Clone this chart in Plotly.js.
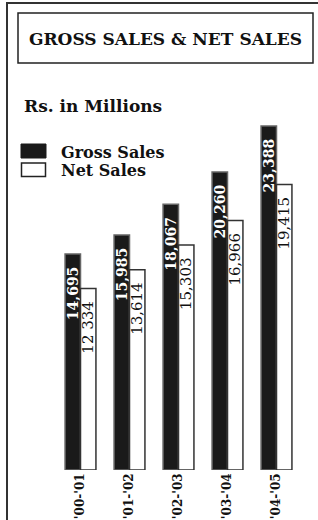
<!DOCTYPE html>
<html>
<head>
<meta charset="utf-8">
<script src="https://cdn.plot.ly/plotly-3.0.1.min.js"></script>
<style>
  html, body { margin: 0; padding: 0; background: #fff; }
  #chart { width: 318px; height: 520px; }
</style>
</head>
<body>
<div id="chart"></div>
<script>
// ---- data ----
const categories = ["'00-'01", "'01-'02", "'02-'03", "'03-'04", "'04-'05"];
const grossSales = [14695, 15985, 18067, 20260, 23388];
const netSales = [12334, 13614, 15303, 16966, 19415];
const grossLabels = ["14,695", "15,985", "18,067", "20,260", "23,388"];
const netLabels = ["12 334", "13,614", "15,303", "16,966", "19,415"];
const seriesNames = ["Gross Sales", "Net Sales"];
const chartTitle = "GROSS SALES & NET SALES";
const unitLabel = "Rs. in Millions";

// ---- layout geometry (pixels) ----
const W = 318, H = 520;
const M = { l: 56, r: 17, t: 120, b: 50 };
const PW = W - M.l - M.r, PH = H - M.t - M.b;
const px = v => (v - M.l) / PW;
const py = v => (H - M.b - v) / PH;

const SERIF = "DejaVu Serif, serif";
const PAD = '\u00A0\u00A0';

const traces = [
  {
    type: 'bar', name: seriesNames[0], x: categories, y: grossSales,
    text: grossLabels, texttemplate: '%{text}' + PAD,
    textposition: 'inside', insidetextanchor: 'end',
    textangle: -90, constraintext: 'none', cliponaxis: false,
    insidetextfont: { family: SERIF, size: 14, color: '#ffffff', weight: 'bold' },
    marker: { color: '#1a1a1a', line: { color: '#666666', width: 1.5 } },
    hoverinfo: 'none', showlegend: false
  },
  {
    type: 'bar', name: seriesNames[1], x: categories, y: netSales,
    text: netLabels, texttemplate: '%{text}' + PAD,
    textposition: 'inside', insidetextanchor: 'end',
    textangle: -90, constraintext: 'none', cliponaxis: false,
    insidetextfont: { family: SERIF, size: 15, color: '#111111' },
    marker: { color: '#ffffff', line: { color: '#333333', width: 1.5 } },
    hoverinfo: 'none', showlegend: false
  }
];

const layout = {
  width: W, height: H,
  margin: M,
  paper_bgcolor: '#ffffff', plot_bgcolor: '#ffffff',
  barmode: 'group', bargap: 0.37, bargroupgap: 0,
  showlegend: false,
  title: {
    text: '<b>' + chartTitle + '</b>',
    font: { family: SERIF, size: 17, color: '#111111' },
    x: 165.5 / W, xanchor: 'center', xref: 'container',
    y: 1 - 39 / H, yanchor: 'middle', yref: 'container'
  },
  xaxis: {
    type: 'category', range: [-0.5, 4.5], tickangle: -90,
    tickfont: { family: SERIF, size: 12, color: '#111111', weight: 'bold' },
    showline: false, showgrid: false, zeroline: false, ticks: '',
    automargin: false, fixedrange: true
  },
  yaxis: {
    range: [0, 23800], visible: false, showgrid: false, zeroline: false,
    automargin: false, fixedrange: true
  },
  shapes: [
    // outer frame
    { type: 'rect', xref: 'paper', yref: 'paper',
      x0: px(7), x1: px(340), y0: py(540), y1: py(3),
      line: { color: '#333333', width: 2 }, fillcolor: 'rgba(0,0,0,0)' },
    // title box
    { type: 'rect', xref: 'paper', yref: 'paper',
      x0: px(18), x1: px(313), y0: py(63), y1: py(13),
      line: { color: '#222222', width: 1.5 }, fillcolor: 'rgba(0,0,0,0)' },
    // legend swatches
    { type: 'rect', xref: 'paper', yref: 'paper',
      x0: px(21), x1: px(46), y0: py(158), y1: py(144),
      line: { color: '#1a1a1a', width: 1 }, fillcolor: '#1a1a1a' },
    { type: 'rect', xref: 'paper', yref: 'paper',
      x0: px(21.5), x1: px(45.5), y0: py(176.5), y1: py(163),
      line: { color: '#222222', width: 1.5 }, fillcolor: '#ffffff' }
  ],
  annotations: [
    { text: '<b>' + unitLabel + '</b>', xref: 'paper', yref: 'paper',
      x: px(22), y: py(106), xanchor: 'left', yanchor: 'middle', showarrow: false,
      font: { family: SERIF, size: 17, color: '#111111' } },
    { text: '<b>' + seriesNames[0] + '</b>', xref: 'paper', yref: 'paper',
      x: px(59), y: py(152), xanchor: 'left', yanchor: 'middle', showarrow: false,
      font: { family: SERIF, size: 16, color: '#111111' } },
    { text: '<b>' + seriesNames[1] + '</b>', xref: 'paper', yref: 'paper',
      x: px(59), y: py(170.5), xanchor: 'left', yanchor: 'middle', showarrow: false,
      font: { family: SERIF, size: 16, color: '#111111' } }
  ]
};

Plotly.newPlot('chart', traces, layout, { displayModeBar: false, staticPlot: true });
</script>
</body>
</html>
